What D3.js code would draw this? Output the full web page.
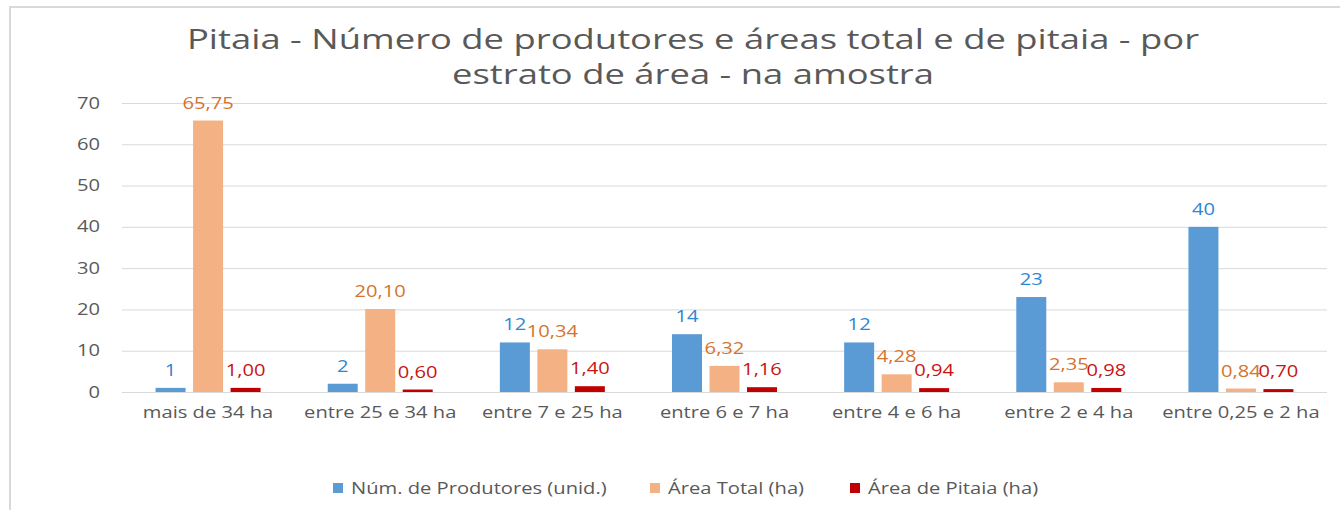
<html><head>
<script src="https://d3js.org/d3.v7.min.js"></script>
<style>
  body { margin: 0; background: #fff; }
  svg text { font-family: "Open Sans", "DejaVu Sans", sans-serif; }
  .gridlines line { stroke: #d9d9d9; }
  .gridlines .domain { stroke: none; }
</style>
</head>
<body>
<svg id="chart" width="1340" height="510"></svg>
<script>
  const categories = ["mais de 34 ha", "entre 25 e 34 ha", "entre 7 e 25 ha", "entre 6 e 7 ha",
                      "entre 4 e 6 ha", "entre 2 e 4 ha", "entre 0,25 e 2 ha"];
  const produtores = [1, 2, 12, 14, 12, 23, 40];
  const areaTotal = [65.75, 20.10, 10.34, 6.32, 4.28, 2.35, 0.84];
  const areaPitaia = [1.00, 0.60, 1.40, 1.16, 0.94, 0.98, 0.70];
  const seriesNames = ["Núm. de Produtores (unid.)", "Área Total (ha)", "Área de Pitaia (ha)"];
  const yTicks = [0, 10, 20, 30, 40, 50, 60, 70];

  const series = [
    {name: seriesNames[0], values: produtores, fill: "#5b9bd5", label: "#2f86d2", fmt: d => String(d)},
    {name: seriesNames[1], values: areaTotal, fill: "#f4b183", label: "#d4742e", fmt: d => d.toFixed(2).replace(".", ",")},
    {name: seriesNames[2], values: areaPitaia, fill: "#c00000", label: "#c81414", fmt: d => d.toFixed(2).replace(".", ",")}
  ];

  // the reference text is stretched sideways
  const stretch = 1.3;
  function addText(parent, x, y, str, opts) {
    const g = parent.append("g").attr("transform", "translate(" + x + "," + y + ") scale(" + stretch + ",1)");
    return g.append("text")
            .attr("text-anchor", opts.anchor || "start")
            .attr("fill", opts.fill || "#595959")
            .attr("font-size", opts.size || 15.5)
            .text(str);
  }

  const svg = d3.select("svg#chart");
  const margins = {top: 103, left: 122, right: 13, bottom: 118};
  const chartWidth = 1340 - margins.left - margins.right;
  const chartHeight = 510 - margins.top - margins.bottom;

  // outer frame
  svg.append("rect").attr("x", 10).attr("y", 7).attr("width", 1340).attr("height", 520)
     .attr("fill", "none").attr("stroke", "#d9d9d9").attr("stroke-width", 2);

  // title
  addText(svg, 693, 49, "Pitaia - Número de produtores e áreas total e de pitaia - por", {anchor: "middle", size: 28});
  addText(svg, 693, 84, "estrato de área - na amostra", {anchor: "middle", size: 28});

  const yScale = d3.scaleLinear().domain([0, 70]).range([chartHeight, 0]);
  const xScale = d3.scaleBand().domain(categories).range([0, chartWidth]).padding(0);
  const barW = 30, pitch = 37.5;

  const chart = svg.append("g").attr("transform", "translate(" + margins.left + "," + margins.top + ")");

  chart.append("g").attr("class", "gridlines")
       .call(d3.axisLeft(yScale).tickValues(yTicks).tickFormat("").tickSize(-chartWidth));

  // y tick labels
  yTicks.forEach(t => {
    addText(chart, -22, yScale(t) + 5.5, t, {anchor: "end", size: 15.5});
  });

  // category labels
  categories.forEach(c => {
    addText(chart, xScale(c) + xScale.bandwidth() / 2, chartHeight + 26, c, {anchor: "middle", size: 15.5});
  });

  series.forEach((s, si) => {
    const off = (si - 1) * pitch - barW / 2;
    const g = chart.append("g");
    g.selectAll("rect").data(s.values).join("rect")
     .attr("x", (d, i) => xScale(categories[i]) + xScale.bandwidth() / 2 + off)
     .attr("y", d => yScale(d))
     .attr("width", barW)
     .attr("height", d => chartHeight - yScale(d))
     .attr("fill", s.fill);
    s.values.forEach((d, i) => {
      addText(g, xScale(categories[i]) + xScale.bandwidth() / 2 + off + barW / 2, yScale(d) - 12,
              s.fmt(d), {anchor: "middle", size: 15.5, fill: s.label});
    });
  });

  // legend
  const legendX = [333, 650, 850];
  const legend = svg.append("g");
  series.forEach((s, i) => {
    legend.append("rect").attr("x", legendX[i]).attr("y", 483).attr("width", 10).attr("height", 10).attr("fill", s.fill);
    addText(legend, legendX[i] + 18, 494, s.name, {size: 15.5});
  });
</script>
</body></html>
